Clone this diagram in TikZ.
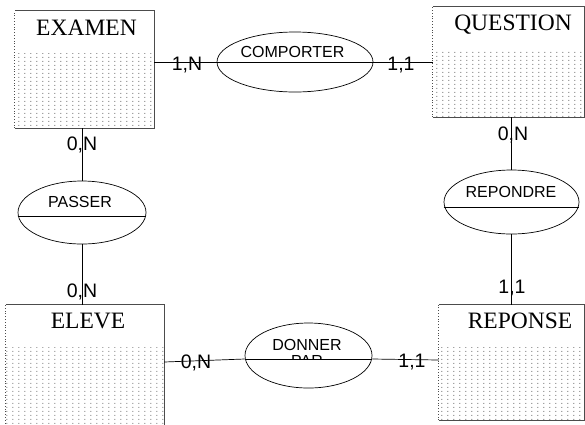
\documentclass[tikz,border=0pt]{standalone}
\usepackage{fontspec}
\setmainfont{Liberation Serif}
\setsansfont{Liberation Sans}
\usetikzlibrary{shapes.geometric,patterns.meta}

\tikzdeclarepattern{
  name=erdots,
  type=uncolored,
  bounding box={(0pt,0pt) and (5.5pt,4.2pt)},
  tile size={(5.5pt,4.2pt)},
  code={\pgfpathcircle{\pgfpoint{2pt}{2pt}}{0.6pt}\pgfusepath{fill}}
}

\begin{document}
\begin{tikzpicture}[x=1pt,y=-1pt,
        entity/.style={rectangle, draw=none, inner sep=0pt},
        relation/.style={ellipse, draw, line width=0.7pt, inner sep=0pt},
        title/.style={anchor=base, font=\fontsize{23.5}{27}\selectfont},
        rtext/.style={anchor=base, font=\sffamily\fontsize{16}{19}\selectfont},
        card/.style={anchor=base, inner sep=0pt, font=\sffamily\fontsize{19.5}{23}\selectfont},
        link/.style={draw, line width=0.7pt, black},
        border/.style={draw, black!70, line width=0.8pt},
    ]
	\useasboundingbox (0,0) rectangle (585,424);
	\node[entity, minimum width=139, minimum height=117] (examen) at (84.5,69.5) {};
	\node[entity, minimum width=151, minimum height=110] (question) at (508.5,62) {};
	\node[entity, minimum width=158, minimum height=135] (eleve) at (85,372.5) {};
	\node[entity, minimum width=145, minimum height=115] (reponse) at (511.5,362.5) {};
	\foreach \e in {examen,question,eleve,reponse} {
		\fill[pattern=erdots, pattern color=black!75] ([yshift=-43pt]\e.north west) rectangle (\e.south east);
		\draw[border] (\e.north west) -- (\e.north east) -- (\e.south east) -- (\e.south west);
		\draw[border, dotted] (\e.south west) -- (\e.north west);
	}
	\node[relation, minimum width=156, minimum height=60] (comporter) at (295,62) {};
	\node[relation, minimum width=128, minimum height=63] (passer) at (82,212.5) {};
	\node[relation, minimum width=135, minimum height=64] (repondre) at (511.5,202) {};
	\node[relation, minimum width=127, minimum height=65] (donner) at (308.5,355.5) {};
	\draw[link] (comporter.west) -- (comporter.east);
	\draw[link] ([yshift=-3.5pt]passer.west) -- ([yshift=-3.5pt]passer.east);
	\draw[link] ([yshift=-5pt]repondre.west) -- ([yshift=-5pt]repondre.east);
	\draw[link] ([yshift=-3.5pt]donner.west) -- ([yshift=-3.5pt]donner.east);
	\draw[link] (examen.east |- comporter.west) -- (comporter.west);
	\draw[link] (comporter.east) -- (question.west);
	\draw[link] (repondre |- question.south) -- (repondre.north);
	\draw[link] (repondre.south) -- (repondre |- reponse.north);
	\draw[link] (passer |- examen.south) -- (passer.north);
	\draw[link] (passer.south) -- (passer |- eleve.north);
	\draw[link] ([yshift=10.5pt]eleve.east) -- ([yshift=-3.5pt]donner.west);
	\draw[link] ([yshift=-3.5pt]donner.east) -- ([yshift=2.5pt]reponse.west);
	\node[title] (t_examen) at (86.5,35) {EXAMEN};
	\node[title] (t_question) at (513,30) {QUESTION};
	\node[title] (t_eleve) at (88,328) {ELEVE};
	\node[title] (t_reponse) at (520,328) {REPONSE};
	\node[rtext] (t_comporter) at (292.5,57) {COMPORTER};
	\node[rtext] (t_passer) at (80,207) {PASSER};
	\node[rtext] (t_repondre) at (511,197) {REPONDRE};
	\node[rtext] (t_donner) at (307,350) {DONNER};
	\begin{scope}
		\clip ([yshift=20pt]donner.west) rectangle ([yshift=-3.5pt]donner.east);
		\node[rtext] (t_par) at (307,366.5) {PAR};
	\end{scope}
	\node[card] (c_examen_comporter) at (187,70) {1,N};
	\node[card] (c_question_comporter) at (401,70) {1,1};
	\node[card] (c_examen_passer) at (82,150) {0,N};
	\node[card] (c_question_repondre) at (513,140) {0,N};
	\node[card] (c_eleve_passer) at (82,297) {0,N};
	\node[card] (c_reponse_repondre) at (512,293) {1,1};
	\node[card] (c_eleve_donner) at (196,368) {0,N};
	\node[card] (c_reponse_donner) at (412,367) {1,1};
    \end{tikzpicture}
\end{document}
